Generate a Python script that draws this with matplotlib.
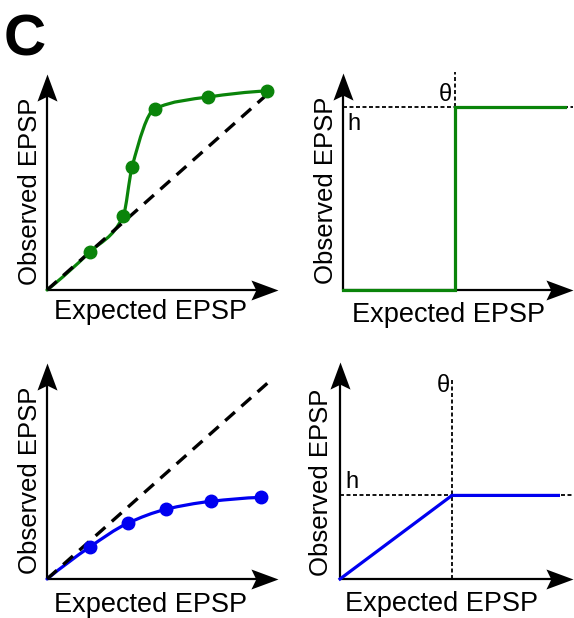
import matplotlib
matplotlib.use('Agg')
import matplotlib.pyplot as plt
import numpy as np
from matplotlib.path import Path
from matplotlib.patches import PathPatch

plt.rcParams['font.family'] = ['Liberation Sans', 'DejaVu Sans']

# ---------------- data (schematic values) ----------------
# supralinear summation (green, top-left); first entry is the curve origin
supra_x = [0.0, 0.19, 0.34, 0.38, 0.48, 0.72, 0.98]
supra_y = [0.0, 0.19, 0.37, 0.62, 0.91, 0.97, 1.00]
# sublinear summation (blue, bottom-left)
sub_x = [0.0, 0.19, 0.36, 0.53, 0.73, 0.955]
sub_y = [0.0, 0.16, 0.28, 0.35, 0.39, 0.41]
# linear reference line
ident_x = [0.0, 1.0]
ident_y = [0.0, 1.0]
# step model (green, top-right)
step_theta = 0.5
step_h = 0.92
step_xend = 0.99
# linear-saturating model (blue, bottom-right)
sat_theta = 0.5
sat_h = 0.42
sat_xend = 0.975

xlabel = 'Expected EPSP'
ylabel = 'Observed EPSP'
panel_letter = 'C'

GREEN = '#0a840a'
BLUE = '#0000f0'

# ---------------- layout ----------------
W, H = 574, 618
XU, YU = 224.0, 199.0   # pixels per data unit

fig = plt.figure(figsize=(W / 100, H / 100), dpi=100)


def fx(x):
    return x / W


def fy(y):
    return 1 - y / H


# stealth arrow-head markers (tip at the marker anchor)
L, HW, N = 1.0, 0.37, 0.18
right_head = Path([(0, 0), (-L, HW), (-L + N, 0), (-L, -HW), (0, 0)],
                  [Path.MOVETO, Path.LINETO, Path.LINETO, Path.LINETO, Path.CLOSEPOLY])
up_head = Path([(0, 0), (HW, -L), (0, -L + N), (-HW, -L), (0, 0)],
               [Path.MOVETO, Path.LINETO, Path.LINETO, Path.LINETO, Path.CLOSEPOLY])
HEAD_MS = 39


def make_ax(ox, oy, tx, ty):
    ax = fig.add_axes([ox / W, 1 - oy / H, (tx - ox) / W, (oy - ty) / H])
    xm = (tx - ox) / XU
    ym = (oy - ty) / YU
    ax.set_xlim(0, xm)
    ax.set_ylim(0, ym)
    ax.axis('off')
    ax.plot([0, xm * 0.97], [0, 0], color='k', lw=1.6, clip_on=False, zorder=1,
            solid_capstyle='butt')
    ax.plot([0, 0], [0, ym * 0.97], color='k', lw=1.6, clip_on=False, zorder=1,
            solid_capstyle='butt')
    ax.plot([xm], [0], marker=right_head, ms=HEAD_MS, color='k', mew=0,
            clip_on=False, zorder=5)
    ax.plot([0], [ym], marker=up_head, ms=HEAD_MS, color='k', mew=0,
            clip_on=False, zorder=5)
    return ax


def pchip_slopes(x, y):
    x = np.asarray(x, float)
    y = np.asarray(y, float)
    h = np.diff(x)
    d = np.diff(y) / h
    n = len(x)
    m = np.zeros(n)
    for k in range(1, n - 1):
        if d[k - 1] * d[k] > 0:
            w1 = 2 * h[k] + h[k - 1]
            w2 = h[k] + 2 * h[k - 1]
            m[k] = (w1 + w2) / (w1 / d[k - 1] + w2 / d[k])

    def end(h0, h1, d0, d1):
        s = ((2 * h0 + h1) * d0 - h0 * d1) / (h0 + h1)
        if np.sign(s) != np.sign(d0):
            s = 0.0
        elif np.sign(d0) != np.sign(d1) and abs(s) > abs(3 * d0):
            s = 3 * d0
        return s

    m[0] = end(h[0], h[1], d[0], d[1])
    m[-1] = end(h[-1], h[-2], d[-1], d[-2])
    return m


def smooth_curve(ax, x, y, color, zorder):
    m = pchip_slopes(x, y)
    verts = [(x[0], y[0])]
    codes = [Path.MOVETO]
    for i in range(len(x) - 1):
        hh = x[i + 1] - x[i]
        verts += [(x[i] + hh / 3, y[i] + m[i] * hh / 3),
                  (x[i + 1] - hh / 3, y[i + 1] - m[i + 1] * hh / 3),
                  (x[i + 1], y[i + 1])]
        codes += [Path.CURVE4] * 3
    ax.add_patch(PathPatch(Path(verts, codes), fill=False, edgecolor=color,
                           lw=2.3, zorder=zorder, capstyle='round',
                           joinstyle='round', clip_on=False))


dash_kw = dict(color='k', lw=2.4, dashes=(3.9, 2.6), clip_on=False)
dot_kw = dict(color='k', lw=1.3, dashes=(2.2, 1.4), clip_on=False)

# ---------------- top-left: supralinear ----------------
ax1 = make_ax(47, 290, 278, 74)
smooth_curve(ax1, supra_x, supra_y, GREEN, 2)
ax1.plot(ident_x, ident_y, zorder=3, **dash_kw)
ax1.plot(supra_x[1:], supra_y[1:], 'o', color=GREEN, ms=9, zorder=4, clip_on=False)

# ---------------- top-right: step ----------------
ax2 = make_ax(343, 290, 573, 73)
ylim2 = ax2.get_ylim()[1]
xlim2 = ax2.get_xlim()[1]
ax2.plot([0, xlim2], [step_h, step_h], zorder=2, **dot_kw)
ax2.plot([step_theta, step_theta], [step_h, ylim2 + 0.005], zorder=2, **dot_kw)
ax2.plot([0, step_theta, step_theta, step_xend], [0, 0, step_h, step_h],
         color=GREEN, lw=2.3, zorder=3, clip_on=False, solid_joinstyle='miter')
ax2.annotate('θ', xy=(step_theta, step_h), xytext=(-3, 6), textcoords='offset pixels',
             ha='right', va='baseline', fontsize=17)
ax2.annotate('h', xy=(0, step_h), xytext=(4, -23), textcoords='offset pixels',
             ha='left', va='baseline', fontsize=17)

# ---------------- bottom-left: sublinear ----------------
ax3 = make_ax(47, 579, 278, 363)
smooth_curve(ax3, sub_x, sub_y, BLUE, 2)
ax3.plot(ident_x, ident_y, zorder=3, **dash_kw)
ax3.plot(sub_x[1:], sub_y[1:], 'o', color=BLUE, ms=9, zorder=4, clip_on=False)

# ---------------- bottom-right: linear then saturating ----------------
ax4 = make_ax(340, 579, 573, 362)
xlim4 = ax4.get_xlim()[1]
ax4.plot([0, xlim4], [sat_h, sat_h], zorder=2, **dot_kw)
ax4.plot([sat_theta, sat_theta], [0, 1.0], zorder=2, **dot_kw)
ax4.plot([0, sat_theta, sat_xend], [0, sat_h, sat_h], color=BLUE, lw=2.3,
         zorder=3, clip_on=False)
ax4.annotate('θ', xy=(sat_theta, 1.0), xytext=(-2, -12), textcoords='offset pixels',
             ha='right', va='baseline', fontsize=17)
ax4.annotate('h', xy=(0, sat_h), xytext=(5, 7), textcoords='offset pixels',
             ha='left', va='baseline', fontsize=17)

# ---------------- axis labels ----------------
for cx, by in [(150, 319), (448.5, 322), (150, 612), (441.5, 611)]:
    fig.text(fx(cx), fy(by), xlabel, ha='center', va='baseline', fontsize=19.5)
for bx, cy in [(37.5, 191.5), (333, 190), (37, 480), (328, 482)]:
    fig.text(fx(bx), fy(cy), ylabel, ha='center', va='baseline', rotation=90,
             rotation_mode='anchor', fontsize=18.5)

fig.text(fx(4), fy(55), panel_letter, ha='left', va='baseline', fontsize=42,
         fontweight='bold')

fig.savefig('out.png', dpi=100)
